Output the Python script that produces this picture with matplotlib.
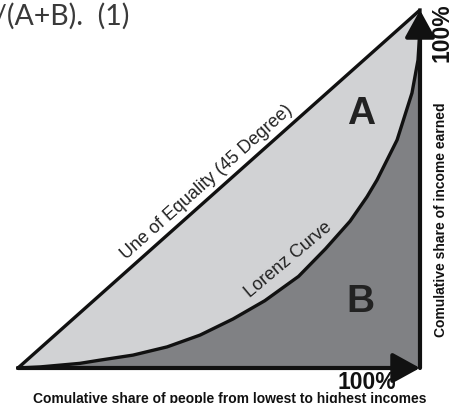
import matplotlib
matplotlib.use("Agg")
from matplotlib import pyplot as plt
import numpy as np

# Lorenz curve (share of people, share of income)
people = [0.0, 0.055, 0.154, 0.204, 0.286, 0.371, 0.453, 0.535, 0.614,
          0.698, 0.765, 0.826, 0.868, 0.893, 0.943, 0.980, 0.995, 0.999, 1.0]
income = [0.0, 0.003, 0.013, 0.022, 0.036, 0.059, 0.092, 0.137, 0.188,
          0.256, 0.333, 0.410, 0.478, 0.525, 0.637, 0.768, 0.860, 0.930, 1.0]
equality = [0.0, 1.0]

light = "#d1d2d4"
dark = "#808184"

fig = plt.figure(figsize=(4.52, 4.03), dpi=100)
ax = fig.add_axes([18 / 452, 35 / 403, 402 / 452, 358 / 403])
ax.set_xlim(0, 1)
ax.set_ylim(0, 1)
ax.axis("off")

x = np.array(people)
y = np.array(income)
ax.fill_between(x, y, x, color=light, lw=0, clip_on=False)
ax.fill_between(x, 0, y, color=dark, lw=0, clip_on=False)

ax.plot(equality, equality, color="#111111", lw=2.4, clip_on=False,
        solid_capstyle="butt")
ax.plot(x, y, color="#111111", lw=2.4, clip_on=False,
        solid_joinstyle="round")

arrow = dict(arrowstyle="-|>,head_length=0.4,head_width=0.22", lw=3,
             color="#111111", mutation_scale=42, shrinkA=0, shrinkB=0)
ax.annotate("", xy=(1.0, 0.0), xytext=(0.0, 0.0), arrowprops=arrow)
ax.annotate("", xy=(1.0, 1.0), xytext=(1.0, 0.0), arrowprops=arrow)

ax.text(0.853, 0.709, "A", fontsize=28, fontweight="bold",
        family="Liberation Sans", color="#222222", ha="center", va="center")
ax.text(0.853, 0.184, "B", fontsize=28, fontweight="bold",
        family="Liberation Sans", color="#222222", ha="center", va="center")

ax.text(0.470, 0.520, "Une of Equality (45 Degree)", fontsize=13,
        family="Liberation Sans", color="#222222", rotation=41.7,
        rotation_mode="anchor", ha="center", va="center")
ax.text(0.672, 0.302, "Lorenz Curve", fontsize=13,
        family="Liberation Sans", color="#222222", rotation=40,
        rotation_mode="anchor", ha="center", va="center")

ax.text(0.868, -0.040, "100%", fontsize=16.5, fontweight="bold",
        family="Liberation Sans", color="#111111", ha="center", va="center")
ax.text(1.055, 0.936, "100%", fontsize=16.5, fontweight="bold",
        family="Liberation Sans", color="#111111", ha="center", va="center",
        rotation=90)
ax.text(0.527, -0.066, "Comulative share of people from lowest to highest incomes",
        fontsize=10, fontweight="bold", family="Liberation Sans",
        color="#111111", ha="center", va="top")
ax.text(1.052, 0.413, "Comulative share of income earned", fontsize=10,
        fontweight="bold", family="Liberation Sans", color="#111111",
        ha="center", va="center", rotation=90)

fig.text(-6 / 452, 1 - 3 / 403, "/(A+B).  (1)", fontsize=20.5,
         family="Lato", fontweight="normal", color="#3a3a3a",
         ha="left", va="top")

fig.savefig("out.png", dpi=100)
